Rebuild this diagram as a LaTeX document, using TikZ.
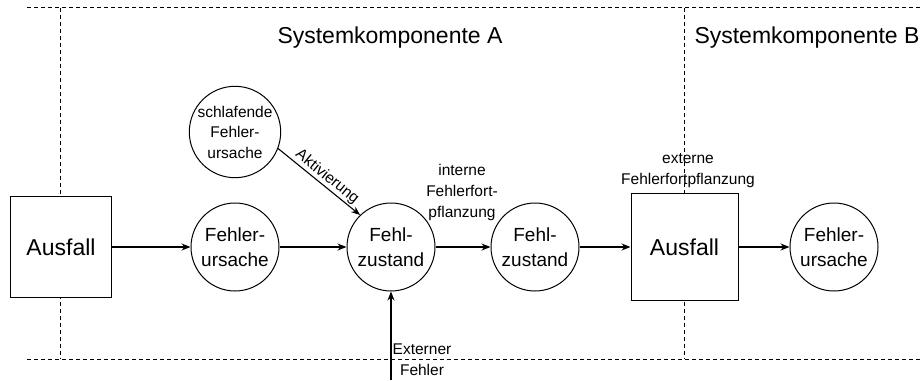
\documentclass[tikz,border=0pt]{standalone}
\usepackage{fontspec}
\setmainfont{Liberation Sans}
\usetikzlibrary{arrows.meta}

\tikzset{
    grenze/.style={line width=0.9pt, dash pattern=on 4pt off 3pt},
    kreis/.style={circle, draw, line width=1pt, fill=white, minimum size=88pt,
        inner sep=0pt, align=center, font=\fontsize{19}{25}\selectfont},
    kasten/.style={rectangle, draw, line width=1pt, fill=white, inner sep=0pt,
        font=\fontsize{23}{28}\selectfont},
    klein/.style={align=center, inner sep=1pt, font=\fontsize{15.5}{21}\selectfont},
    titel/.style={font=\fontsize{23}{28}\selectfont},
    pfeil/.style={-{Stealth[length=9pt,width=7pt]}, line width=1.1pt}
}

\begin{document}
\begin{tikzpicture}[x=1pt, y=-1pt]
        \useasboundingbox (0,0) rectangle (920,380);

        % Komponentengrenzen
        \draw[grenze] (27,7.5) -- (920,7.5);
        \draw[grenze] (27,359) -- (920,359);
        \draw[grenze] (60,7.5) -- (60,359);
        \draw[grenze] (684.5,7.5) -- (684.5,359);

        \node[titel] (titelA) at (390,38) {Systemkomponente A};
        \node[titel] (titelB) at (807,38) {Systemkomponente B};

        % Kette
        \node[kasten, minimum size=101pt] (aus1) at (61,247) {Ausfall};
        \node[kreis] (fu1) at (235,247) {Fehler-\\ursache};
        \node[kreis] (fz1) at (391,247) {Fehl-\\zustand};
        \node[kreis] (fz2) at (535,247) {Fehl-\\zustand};
        \node[kasten, minimum size=107pt] (aus2) at (684.5,247) {Ausfall};
        \node[kreis] (fu2) at (834,247) {Fehler-\\ursache};
        \foreach \von/\nach in {aus1/fu1, fu1/fz1, fz1/fz2, fz2/aus2, aus2/fu2} {
            \draw[pfeil] (\von) -- (\nach);
        }

        % Aktivierung
        \node[kreis, font=\fontsize{15.5}{20.5}\selectfont] (schlaf) at (235,132)
            {schlafende\\Fehler-\\ursache};
        \draw[pfeil] (schlaf.-21) -- node[klein, sloped, above, pos=0.53] {Aktivierung} (fz1.134);

        % Externer Fehler
        \coordinate (ext) at (391,380);
        \draw[pfeil] (ext) -- (fz1);
        \node[klein] (extlabel) at (422,360) {Externer\\Fehler};

        % Fortpflanzung
        \node[klein] (intern) at (462,192) {interne\\Fehlerfort-\\pflanzung};
        \node[klein] (extern) at (688,171) {externe\\Fehlerfortpflanzung};
    \end{tikzpicture}
\end{document}
